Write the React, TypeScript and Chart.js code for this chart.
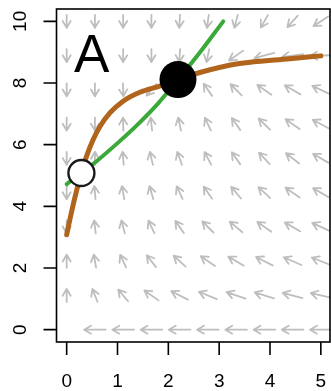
import React, { useEffect, useRef } from "react";
import { Chart, registerables } from "chart.js";

Chart.register(...registerables);

// ---- data ----
const xTickValues = [0, 1, 2, 3, 4, 5];
const yTickValues = [0, 2, 4, 6, 8, 10];

// vector-field grid
const fieldX = [0, 0.556, 1.111, 1.667, 2.222, 2.778, 3.333, 3.889, 4.444, 5.0];
const fieldY = [0, 1.111, 2.222, 3.333, 4.444, 5.556, 6.667, 7.778, 8.889, 10.0];
// on-screen arrow direction in degrees (0 = right, 90 = up, 180 = left, 270 = down), rows by fieldY
const fieldAngles: (number | null)[][] = [
  [null, 180, 180, 180, 180, 180, 180, 180, 180, 180],
  [90, 112, 130, 145, 153, 158, 161, 163, 165, 167],
  [90, 100, 115, 128, 138, 145, 150, 153, 156, 158],
  [270, 97, 105, 115, 125, 135, 140, 145, 150, 155],
  [270, 95, 100, 106, 115, 125, 130, 137, 145, 150],
  [270, 90, 95, 103, 110, 118, 125, 133, 142, 150],
  [270, 270, 92, 96, 102, 115, 125, 135, 145, 152],
  [270, 270, 272, 230, 110, 125, 135, 145, 150, 155],
  [270, null, 270, 270, 265, 258, 215, 195, 188, 182],
  [270, 270, 270, 270, 267, 262, 255, 240, 228, 213],
];

// orange (brown) nullcline
const orangeX = [0, 0.1, 0.2, 0.29, 0.39, 0.52, 0.655, 0.85, 1.11, 1.44, 1.83, 2.19, 2.62, 3.4, 4.39, 5.0];
const orangeY = [3.08, 3.85, 4.54, 5.08, 5.62, 6.16, 6.59, 7.03, 7.41, 7.7, 7.9, 8.11, 8.34, 8.63, 8.79, 8.88];

// green nullcline
const greenX = [0, 0.29, 0.6, 1.0, 1.4, 1.8, 2.19, 2.62, 3.08];
const greenY = [4.72, 5.08, 5.48, 6.05, 6.66, 7.34, 8.11, 8.99, 10.0];

// equilibria
const stableX = [2.19];
const stableY = [8.11];
const unstableX = [0.29];
const unstableY = [5.08];

const panelLabel = "A";
const panelLabelX = 0.49;
const panelLabelY = 8.37;

const FONT = "'Liberation Sans', Arial, Helvetica, sans-serif";

const toPoints = (xs: number[], ys: number[]) => xs.map((x, i) => ({ x, y: ys[i] }));

const fieldPlugin = {
  id: "vectorField",
  beforeDatasetsDraw(chart: any) {
    const { ctx } = chart;
    const xs = chart.scales.x;
    const ys = chart.scales.y;
    const kx = Math.abs(xs.getPixelForValue(1) - xs.getPixelForValue(0));
    const ky = Math.abs(ys.getPixelForValue(1) - ys.getPixelForValue(0));
    const halfLen = 0.425 / 2;
    ctx.save();
    ctx.strokeStyle = "#bebebe";
    ctx.lineWidth = 1.8;
    ctx.lineCap = "round";
    ctx.lineJoin = "round";
    fieldAngles.forEach((row, j) =>
      row.forEach((ang, i) => {
        if (ang === null) return;
        const t = (ang * Math.PI) / 180;
        let ux = Math.cos(t) / kx;
        let uy = Math.sin(t) / ky;
        const n = Math.hypot(ux, uy);
        ux = (ux / n) * halfLen;
        uy = (uy / n) * halfLen;
        const x0 = xs.getPixelForValue(fieldX[i] - ux);
        const y0 = ys.getPixelForValue(fieldY[j] - uy);
        const x1 = xs.getPixelForValue(fieldX[i] + ux);
        const y1 = ys.getPixelForValue(fieldY[j] + uy);
        const a = Math.atan2(y1 - y0, x1 - x0);
        const h = 8;
        const ha = (30 * Math.PI) / 180;
        ctx.beginPath();
        ctx.moveTo(x0, y0);
        ctx.lineTo(x1, y1);
        ctx.moveTo(x1 - h * Math.cos(a - ha), y1 - h * Math.sin(a - ha));
        ctx.lineTo(x1, y1);
        ctx.lineTo(x1 - h * Math.cos(a + ha), y1 - h * Math.sin(a + ha));
        ctx.stroke();
      })
    );
    ctx.restore();
  },
};

const axesPlugin = {
  id: "rAxes",
  afterDraw(chart: any) {
    const { ctx, chartArea } = chart;
    const xs = chart.scales.x;
    const ys = chart.scales.y;
    ctx.save();
    ctx.strokeStyle = "#000";
    ctx.lineWidth = 1.6;
    ctx.strokeRect(chartArea.left, chartArea.top, chartArea.right - chartArea.left - 1, chartArea.bottom - chartArea.top);
    const tick = 13;
    ctx.beginPath();
    xTickValues.forEach((v) => {
      const px = xs.getPixelForValue(v);
      ctx.moveTo(px, chartArea.bottom);
      ctx.lineTo(px, chartArea.bottom + tick);
    });
    yTickValues.forEach((v) => {
      const py = ys.getPixelForValue(v);
      ctx.moveTo(chartArea.left, py);
      ctx.lineTo(chartArea.left - tick, py);
    });
    ctx.stroke();
    ctx.fillStyle = "#000";
    ctx.font = `19px ${FONT}`;
    ctx.textAlign = "center";
    ctx.textBaseline = "alphabetic";
    xTickValues.forEach((v) => {
      ctx.fillText(String(v), xs.getPixelForValue(v), chartArea.bottom + 45);
    });
    yTickValues.forEach((v) => {
      ctx.save();
      ctx.translate(chartArea.left - 31, ys.getPixelForValue(v));
      ctx.rotate(-Math.PI / 2);
      ctx.fillText(String(v), 0, 0);
      ctx.restore();
    });
    ctx.font = `53px ${FONT}`;
    ctx.fillText(panelLabel, xs.getPixelForValue(panelLabelX), ys.getPixelForValue(panelLabelY));
    ctx.restore();
  },
};

export default function App() {
  const ref = useRef<HTMLCanvasElement | null>(null);
  useEffect(() => {
    if (!ref.current) return;
    const chart = new Chart(ref.current, {
      type: "scatter",
      data: {
        datasets: [
          {
            label: "orange",
            data: toPoints(orangeX, orangeY),
            showLine: true,
            borderColor: "#b1641b",
            borderWidth: 5,
            pointRadius: 0,
            cubicInterpolationMode: "monotone",
            borderCapStyle: "round",
            borderJoinStyle: "round",
            order: 4,
          } as any,
          {
            label: "green",
            data: toPoints(greenX, greenY),
            showLine: true,
            borderColor: "#3aa93a",
            borderWidth: 4,
            pointRadius: 0,
            cubicInterpolationMode: "monotone",
            borderCapStyle: "round",
            borderJoinStyle: "round",
            order: 3,
          } as any,
          {
            label: "stable",
            data: toPoints(stableX, stableY),
            pointRadius: 18.5,
            pointBackgroundColor: "#000",
            pointBorderColor: "#000",
            pointBorderWidth: 0,
            order: 1,
          },
          {
            label: "unstable",
            data: toPoints(unstableX, unstableY),
            pointRadius: 13,
            pointBackgroundColor: "#fff",
            pointBorderColor: "#1a1a1a",
            pointBorderWidth: 2.4,
            order: 2,
          },
        ],
      },
      options: {
        responsive: false,
        animation: false,
        layout: { autoPadding: false, padding: { left: 56.5, right: 0, top: 9, bottom: 49 } },
        scales: {
          x: { type: "linear", min: -0.2, max: 5.2, display: false },
          y: { type: "linear", min: -0.4, max: 10.4, display: false },
        },
        plugins: { legend: { display: false }, tooltip: { enabled: false } },
        events: [],
      },
      plugins: [fieldPlugin, axesPlugin],
    });
    return () => chart.destroy();
  }, []);
  return (
    <div style={{ position: "fixed", left: 0, top: 0, width: 331, height: 391, background: "#fff" }}>
      <canvas ref={ref} width={331} height={391} style={{ display: "block" }} />
    </div>
  );
}
